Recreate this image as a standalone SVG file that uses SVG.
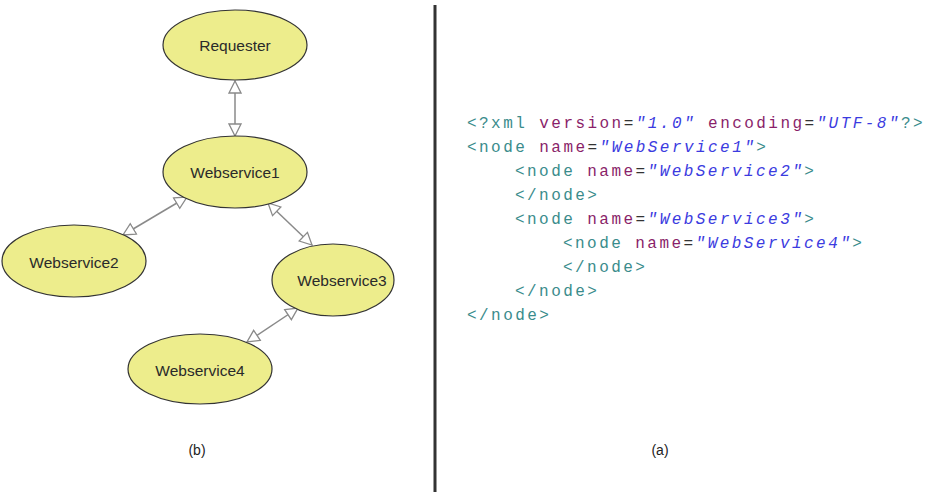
<svg xmlns="http://www.w3.org/2000/svg" width="933" height="496" viewBox="0 0 933 496">
<style>
.node ellipse{fill:#eded8c;stroke:#333;stroke-width:1.2}
.node text{font-family:"Liberation Sans",Arial,sans-serif;font-size:15.5px;fill:#2a2a2a;text-anchor:middle;dominant-baseline:central}
.edge{stroke:#8a8a8a;stroke-width:1.5;fill:none;marker-start:url(#tri);marker-end:url(#tri)}
.code{font-family:"Liberation Mono","Courier New",monospace;font-size:16px;letter-spacing:2.45px}
.t{fill:#3a8c8c}.a{fill:#8a1f6a}.v{fill:#3b3be0;font-style:italic}.p{fill:#333}
.cap{font-family:"Liberation Sans",Arial,sans-serif;font-size:14px;fill:#222;text-anchor:middle}
</style>
<defs>
<marker id="tri" viewBox="0 0 14 14" refX="13" refY="7" markerWidth="14" markerHeight="14" markerUnits="userSpaceOnUse" orient="auto-start-reverse">
<polygon points="1,1 13,7 1,13" fill="#fff" stroke="#8a8a8a" stroke-width="1.3"/>
</marker>
</defs>
<rect width="933" height="496" fill="#fff"/>
<g id="connectors">
<line class="edge" x1="235" y1="81" x2="235" y2="136"/>
<line class="edge" x1="187" y1="197" x2="123" y2="235"/>
<line class="edge" x1="268" y1="203" x2="312" y2="245"/>
<line class="edge" x1="298" y1="308" x2="247" y2="342"/>
</g>
<g id="requester" class="node"><ellipse cx="235" cy="45" rx="72" ry="35"/><text x="235" y="45">Requester</text></g>
<g id="webservice1" class="node"><ellipse cx="235" cy="172" rx="72" ry="36"/><text x="235" y="172">Webservice1</text></g>
<g id="webservice2" class="node"><ellipse cx="74" cy="261" rx="72" ry="36"/><text x="74" y="262">Webservice2</text></g>
<g id="webservice3" class="node"><ellipse cx="333" cy="280" rx="61" ry="36"/><text x="342" y="280">Webservice3</text></g>
<g id="webservice4" class="node"><ellipse cx="200" cy="369" rx="72" ry="35"/><text x="200" y="370">Webservice4</text></g>
<line id="divider" x1="435" y1="5" x2="435" y2="492" stroke="#333" stroke-width="3"/>
<g id="xml" class="code">
<text x="467" y="128"><tspan class="t">&lt;?xml </tspan><tspan class="a">version</tspan><tspan class="p">=</tspan><tspan class="v">"1.0"</tspan><tspan class="p"> </tspan><tspan class="a">encoding</tspan><tspan class="p">=</tspan><tspan class="v">"UTF-8"</tspan><tspan class="t">?&gt;</tspan></text>
<text x="467" y="152"><tspan class="t">&lt;node </tspan><tspan class="a">name</tspan><tspan class="p">=</tspan><tspan class="v">"WebService1"</tspan><tspan class="t">&gt;</tspan></text>
<text x="515" y="176"><tspan class="t">&lt;node </tspan><tspan class="a">name</tspan><tspan class="p">=</tspan><tspan class="v">"WebService2"</tspan><tspan class="t">&gt;</tspan></text>
<text x="515" y="200" class="t">&lt;/node&gt;</text>
<text x="515" y="224"><tspan class="t">&lt;node </tspan><tspan class="a">name</tspan><tspan class="p">=</tspan><tspan class="v">"WebService3"</tspan><tspan class="t">&gt;</tspan></text>
<text x="563" y="248"><tspan class="t">&lt;node </tspan><tspan class="a">name</tspan><tspan class="p">=</tspan><tspan class="v">"WebService4"</tspan><tspan class="t">&gt;</tspan></text>
<text x="563" y="272" class="t">&lt;/node&gt;</text>
<text x="515" y="296" class="t">&lt;/node&gt;</text>
<text x="467" y="320" class="t">&lt;/node&gt;</text>
</g>
<text class="cap" x="197" y="455">(b)</text>
<text class="cap" x="660" y="455">(a)</text>
</svg>
